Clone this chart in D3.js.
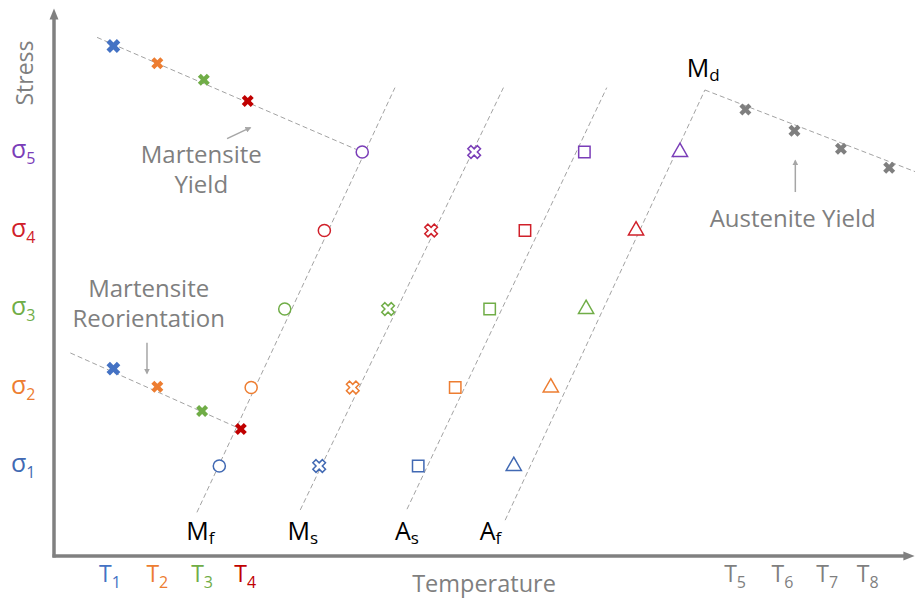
<!DOCTYPE html>
<html>
<head>
<meta charset="utf-8">
<script src="https://cdn.jsdelivr.net/npm/d3@7"></script>
<style>
  body { margin: 0; background: #fff; }
  svg { font-family: "Open Sans", "Noto Sans", sans-serif; }
</style>
</head>
<body>
<div id="chart"></div>
<script>
// stress levels sigma1..sigma5 and their colours
const sigmaLevels = [1, 2, 3, 4, 5];
const sigmaColors = ["#4169b3", "#ED7D31", "#70AD47", "#D0202A", "#7A3DB8"];

// temperature tick labels T1..T8
const tempTicks = [6.5, 12.0, 17.2, 22.2, 79.1, 84.6, 89.8, 94.5];
const tempColors = ["#4472C4", "#ED7D31", "#70AD47", "#C00000", "#7f7f7f", "#7f7f7f", "#7f7f7f", "#7f7f7f"];

// yield / reorientation lines  [temperature, stress]
const martYieldLine = [[5.0, 6.46], [35.8, 5.0]];
const martYieldPts = [[6.9, 6.35], [12.0, 6.13], [17.4, 5.92], [22.5, 5.65]];
const reorientLine = [[1.9, 2.44], [21.7, 1.47]];
const reorientPts = [[6.9, 2.24], [12.0, 2.01], [17.2, 1.70], [21.7, 1.47]];
const austYieldLine = [[75.6, 5.79], [100, 4.75]];
const austYieldPts = [[80.3, 5.54], [86.0, 5.27], [91.4, 5.04], [97.0, 4.80]];

// transformation lines Mf, Ms, As, Af
const transNames = [["M", "f"], ["M", "s"], ["A", "s"], ["A", "f"]];
const transLines = [
  [[16.6, 0.41], [39.6, 5.82]],
  [[28.6, 0.44], [52.2, 5.82]],
  [[41.0, 0.45], [64.2, 5.82]],
  [[52.4, 0.31], [75.6, 5.79]]
];
const transLabelT = [17.0, 28.9, 41.0, 50.7];
// open markers, temperature at each sigma level
const mfTemps = [19.2, 22.9, 26.8, 31.4, 35.8];
const msTemps = [30.8, 34.7, 38.8, 43.8, 48.8];
const asTemps = [42.3, 46.6, 50.6, 54.7, 61.6];
const afTemps = [53.4, 57.7, 61.8, 67.6, 72.7];

const width = 917, height = 600;
const origin = { x: 54, y: 556 };

const x = d3.scaleLinear().domain([0, 100]).range([54, 915]);
const y = d3.scaleLinear().domain([1, 5]).range([466, 152]);

const svg = d3.select("#chart").append("svg")
  .attr("width", width)
  .attr("height", height);

const defs = svg.append("defs");
defs.append("marker")
  .attr("id", "axisHead")
  .attr("viewBox", "0 0 10 10")
  .attr("refX", 5).attr("refY", 5)
  .attr("markerWidth", 3.2).attr("markerHeight", 3.2)
  .attr("orient", "auto")
  .append("path").attr("d", "M0,1 L10,5 L0,9 Z").attr("fill", "#808080");
defs.append("marker")
  .attr("id", "noteHead")
  .attr("viewBox", "0 0 10 10")
  .attr("refX", 8).attr("refY", 5)
  .attr("markerWidth", 6).attr("markerHeight", 6)
  .attr("markerUnits", "userSpaceOnUse")
  .attr("orient", "auto")
  .append("path").attr("d", "M0,0 L10,5 L0,10 Z").attr("fill", "#a6a6a6");

const line = d3.line().x(d => x(d[0])).y(d => y(d[1]));
const gray = "#7f7f7f";

// dashed guide lines
const dashed = [martYieldLine, reorientLine, austYieldLine].concat(transLines);
svg.append("g").selectAll("path")
  .data(dashed)
  .join("path")
  .attr("d", line)
  .attr("fill", "none")
  .attr("stroke", "#a3a3a3")
  .attr("stroke-width", 1)
  .attr("stroke-dasharray", "5,3");

// axes (arrows)
svg.append("line")
  .attr("x1", origin.x).attr("y1", origin.y + 1.5)
  .attr("x2", origin.x).attr("y2", 14)
  .attr("stroke", "#808080").attr("stroke-width", 3.5)
  .attr("marker-end", "url(#axisHead)");
svg.append("line")
  .attr("x1", origin.x - 1.5).attr("y1", origin.y)
  .attr("x2", x.range()[1] - 6).attr("y2", origin.y)
  .attr("stroke", "#808080").attr("stroke-width", 3.5)
  .attr("marker-end", "url(#axisHead)");

// filled X markers
const xSym = d3.symbol().type(d3.symbolCross);
function drawFilledX(pts, colors, sizes) {
  svg.append("g").selectAll("path")
    .data(pts)
    .join("path")
    .attr("d", (d, i) => xSym.size(sizes[i])())
    .attr("transform", d => `translate(${x(d[0])},${y(d[1])}) rotate(45)`)
    .attr("fill", (d, i) => colors[i]);
}
drawFilledX(martYieldPts, tempColors.slice(0, 4), [120, 90, 90, 90]);
drawFilledX(reorientPts, tempColors.slice(0, 4), [120, 90, 90, 90]);
drawFilledX(austYieldPts, [gray, gray, gray, gray], [90, 90, 90, 90]);

// open markers on transformation lines
const openSets = [
  { temps: mfTemps, type: d3.symbolCircle, size: 115, rot: 0 },
  { temps: msTemps, type: d3.symbolCross, size: 100, rot: 45 },
  { temps: asTemps, type: d3.symbolSquare, size: 130, rot: 0 },
  { temps: afTemps, type: d3.symbolTriangle, size: 100, rot: 0 }
];
openSets.forEach(set => {
  svg.append("g").selectAll("path")
    .data(sigmaLevels)
    .join("path")
    .attr("d", d3.symbol().type(set.type).size(set.size))
    .attr("transform", (s, i) => `translate(${x(set.temps[i])},${y(s)}) rotate(${set.rot})`)
    .attr("fill", "#fff")
    .attr("stroke", (s, i) => sigmaColors[i])
    .attr("stroke-width", 1.5);
});

// sigma labels
const sig = svg.append("g").selectAll("text")
  .data(sigmaLevels)
  .join("text")
  .attr("x", 11)
  .attr("y", s => y(s) + 6)
  .attr("fill", (s, i) => sigmaColors[i])
  .attr("font-size", 25);
sig.append("tspan").text("σ");
sig.append("tspan").attr("font-size", 16).attr("dy", 6).text(s => s);

// temperature tick labels
const tl = svg.append("g").selectAll("text")
  .data(tempTicks)
  .join("text")
  .attr("x", t => x(t))
  .attr("y", 582)
  .attr("text-anchor", "middle")
  .attr("fill", (t, i) => tempColors[i])
  .attr("font-size", 23);
tl.append("tspan").text("T");
tl.append("tspan").attr("font-size", 16).attr("dy", 6).text((t, i) => i + 1);

// transformation labels
const ml = svg.append("g").selectAll("text")
  .data(transNames)
  .join("text")
  .attr("x", (d, i) => x(transLabelT[i]))
  .attr("y", 540)
  .attr("text-anchor", "middle")
  .attr("fill", "#000")
  .attr("font-size", 25);
ml.append("tspan").text(d => d[0]);
ml.append("tspan").attr("font-size", 17).attr("dy", 4).text(d => d[1]);

const md = svg.append("text")
  .attr("x", x(75.4)).attr("y", y(5.96))
  .attr("text-anchor", "middle")
  .attr("fill", "#000").attr("font-size", 25);
md.append("tspan").text("M");
md.append("tspan").attr("font-size", 17).attr("dy", 4).text("d");

// axis titles
svg.append("text")
  .attr("transform", "translate(33,73) rotate(-90)")
  .attr("text-anchor", "middle")
  .attr("fill", gray).attr("font-size", 23)
  .text("Stress");
svg.append("text")
  .attr("x", 484).attr("y", 592)
  .attr("text-anchor", "middle")
  .attr("fill", gray).attr("font-size", 23.5)
  .text("Temperature");

// annotations
const notes = [
  { lines: ["Martensite", "Yield"], t: 17.1, s: 4.86, arrow: [[20.1, 5.17], [22.8, 5.31]] },
  { lines: ["Martensite", "Reorientation"], t: 11.0, s: 3.15, arrow: [[10.8, 2.57], [10.8, 2.18]] },
  { lines: ["Austenite Yield"], t: 85.8, s: 4.04, arrow: [[86.1, 4.49], [86.1, 4.89]] }
];
notes.forEach(n => {
  const t = svg.append("text")
    .attr("text-anchor", "middle")
    .attr("fill", gray).attr("font-size", 24);
  n.lines.forEach((l, i) => {
    t.append("tspan")
      .attr("x", x(n.t))
      .attr("y", y(n.s) + i * 30)
      .text(l);
  });
  svg.append("path")
    .attr("d", line(n.arrow))
    .attr("stroke", "#a6a6a6").attr("stroke-width", 1.5)
    .attr("fill", "none")
    .attr("marker-end", "url(#noteHead)");
});
</script>
</body>
</html>
